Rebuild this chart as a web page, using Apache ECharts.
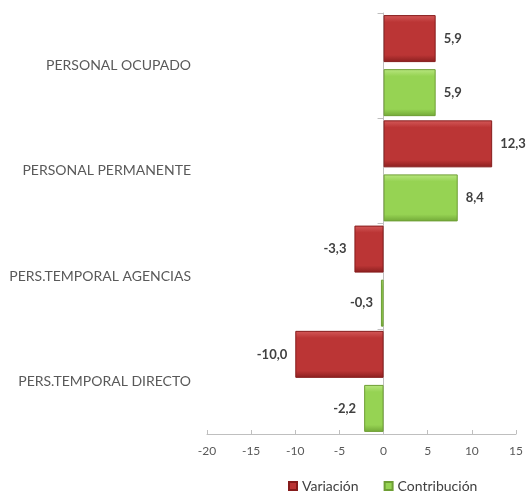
<!DOCTYPE html>
<html>
<head>
<meta charset="utf-8">
<script src="https://cdn.jsdelivr.net/npm/echarts@6/dist/echarts.min.js"></script>
<style>
  html, body { margin: 0; padding: 0; background: #fff; }
  #chartBox { width: 531px; height: 491px; }
</style>
</head>
<body>
<div id="chartBox"></div>
<script>
// datos
const categorias = ['PERSONAL OCUPADO', 'PERSONAL PERMANENTE', 'PERS.TEMPORAL AGENCIAS', 'PERS.TEMPORAL DIRECTO']
const variacion = [5.9, 12.3, -3.3, -10.0]
const contribucion = [5.9, 8.4, -0.3, -2.2]
const ticksX = [-20, -15, -10, -5, 0, 5, 10, 15]

const FONT = 'Lato'

const fmt = (v) => v.toFixed(1).replace('.', ',')

const etiqueta = {
  show: true,
  position: 'right',
  distance: 8,
  color: '#404040',
  fontFamily: FONT,
  fontWeight: 'bold',
  fontSize: 13,
  formatter: (p) => fmt(p.value)
}

// etiquetas a la izquierda para los negativos
const puntos = (vals) => vals.map(v => ({
  value: v,
  label: { position: v < 0 ? 'left' : 'right' }
}))

const grad = (top, mid, bot) => new echarts.graphic.LinearGradient(0, 0, 0, 1, [
  { offset: 0, color: top },
  { offset: 0.15, color: mid },
  { offset: 0.85, color: mid },
  { offset: 1, color: bot }
])

var myChart = echarts.init(document.getElementById('chartBox'))

const chartOptions = {
  animation: false,
  grid: { left: 207, right: 15, top: 13, bottom: 57, containLabel: false },
  legend: {
    top: 474,
    left: 283,
    itemWidth: 8,
    itemHeight: 8,
    itemGap: 25,
    icon: 'rect',
    textStyle: { color: '#404040', fontFamily: FONT, fontSize: 14 },
    data: ['Variación', 'Contribución']
  },
  xAxis: {
    type: 'value',
    min: -20,
    max: 15,
    interval: 5,
    splitLine: { show: false },
    axisLine: { show: true, lineStyle: { color: '#bfbfbf' } },
    axisTick: { show: true, inside: true, length: 4, lineStyle: { color: '#bfbfbf' } },
    axisLabel: {
      color: '#595959', fontFamily: FONT, fontSize: 12, margin: 11,
      formatter: (v) => ticksX.includes(v) ? String(v) : ''
    }
  },
  yAxis: [
    {
      type: 'category',
      inverse: true,
      data: categorias,
      axisLine: { onZero: true, lineStyle: { color: '#bfbfbf' } },
      axisTick: { show: true, length: 6, lineStyle: { color: '#bfbfbf' } },
      axisLabel: { show: false }
    },
    {
      type: 'category',
      inverse: true,
      position: 'left',
      data: categorias,
      axisLine: { show: false, onZero: false },
      axisTick: { show: false },
      axisLabel: { color: '#595959', fontFamily: FONT, fontSize: 14, margin: 16 }
    }
  ],
  series: [
    {
      name: 'Variación',
      type: 'bar',
      barWidth: 47,
      barGap: '15%',
      label: etiqueta,
      itemStyle: {
        color: grad('#d45a5a', '#bb3535', '#8a1f1f'),
        borderColor: '#861c1c',
        borderWidth: 1
      },
      data: puntos(variacion)
    },
    {
      name: 'Contribución',
      type: 'bar',
      barWidth: 47,
      barGap: '15%',
      label: etiqueta,
      itemStyle: {
        color: grad('#b9e680', '#96d353', '#72a838'),
        borderColor: '#6e9e34',
        borderWidth: 1
      },
      data: puntos(contribucion)
    }
  ]
}

if (myChart) {
  myChart.setOption(chartOptions)
}
</script>
</body>
</html>
